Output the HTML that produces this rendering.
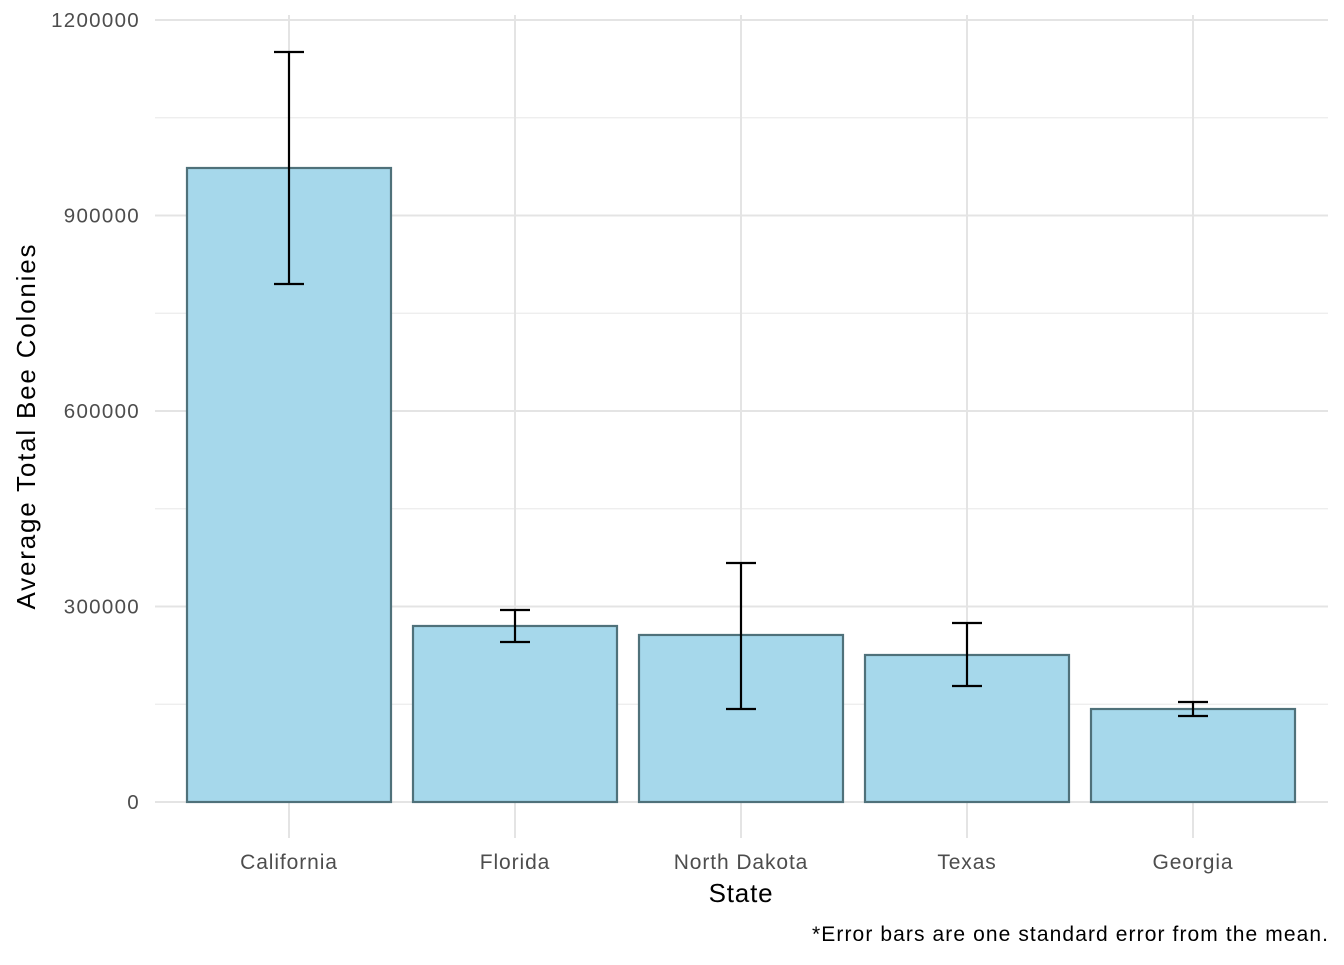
<!DOCTYPE html>
<html><head><meta charset="utf-8"><style>
body{margin:0;background:#fff;}
svg text{font-family:"Liberation Sans",Arial,sans-serif;}
</style></head><body>
<svg id="chart" width="1344" height="960"></svg>
<script>
const categories=["California","Florida","North Dakota","Texas","Georgia"];
const means=[972900,270100,256300,225600,142700];
const errLow=[794900,245500,142700,178000,132000];
const errHigh=[1150900,294600,366800,274700,153500];
const yTicks=[0,300000,600000,900000,1200000];
const yMinor=[150000,450000,750000,1050000];

const svg=document.getElementById('chart');
const NS='http://www.w3.org/2000/svg';
const y0=802,y1=20,yMax=1200000;
const y=v=>y0-(v/yMax)*(y0-y1);
const step=226,x0=289;
const x=i=>x0+i*step;
const bw=204;
function mk(t,a){const e=document.createElementNS(NS,t);for(const k in a)e.setAttribute(k,a[k]);svg.appendChild(e);return e;}

yMinor.forEach(v=>{const l=mk('line',{x1:155,x2:1328,y1:y(v),y2:y(v),stroke:'#ebebeb','stroke-width':1.2});

});
yTicks.forEach(v=>{const l=mk('line',{x1:155,x2:1328,y1:y(v),y2:y(v),stroke:'#e4e4e4','stroke-width':2});


const t=mk('text',{x:140,y:y(v)+7,'text-anchor':'end','font-size':20.5,'letter-spacing':1.3,fill:'#4d4d4d'});t.textContent=v;

});
categories.forEach((c,i)=>{const l=mk('line',{x1:x(i),x2:x(i),y1:15,y2:838,stroke:'#e4e4e4','stroke-width':2});

});
categories.forEach((c,i)=>{
const r=mk('rect',{x:x(i)-bw/2,y:y(means[i]),width:bw,height:y(0)-y(means[i]),fill:'#a6d8eb',stroke:'#4f717a','stroke-width':2.2});


const g=mk('path',{d:`M${x(i)-15},${y(errHigh[i])}H${x(i)+15}M${x(i)},${y(errHigh[i])}V${y(errLow[i])}M${x(i)-15},${y(errLow[i])}H${x(i)+15}`,stroke:'#000','stroke-width':2.2,fill:'none'});


const t=mk('text',{x:x(i),y:869,'text-anchor':'middle','font-size':21,'letter-spacing':0.9,fill:'#4d4d4d'});t.textContent=c;

});
let t=mk('text',{x:741,y:902,'text-anchor':'middle','font-size':26,'letter-spacing':0.8,fill:'#000'});t.textContent='State';


t=mk('text',{x:0,y:0,transform:'translate(35,427) rotate(-90)','text-anchor':'middle','font-size':26,textLength:365,lengthAdjust:'spacing',fill:'#000'});t.textContent='Average Total Bee Colonies';


t=mk('text',{x:812,y:941,'font-size':21,textLength:516,lengthAdjust:'spacing',fill:'#000'});t.textContent='*Error bars are one standard error from the mean.';


</script>
</body></html>
